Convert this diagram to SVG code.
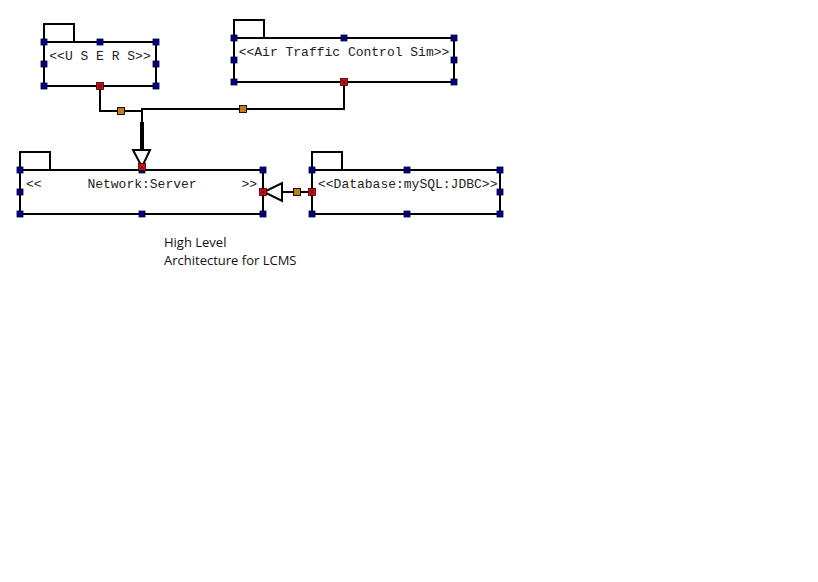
<svg xmlns="http://www.w3.org/2000/svg" width="818" height="582" viewBox="0 0 818 582">
<style>
.box{fill:#fff;stroke:#000;stroke-width:2}
.tab{fill:none;stroke:#000;stroke-width:2}
.ln{fill:none;stroke:#000;stroke-width:2}
.h{fill:#000080;stroke:#000033;stroke-width:0.8}
.r{fill:#d01010;stroke:#300;stroke-width:0.8}
.rx{stroke:#500;stroke-width:0.8}
.o{fill:#c87a1a;stroke:#000;stroke-width:0.9}
.mono{font-family:"Liberation Mono","Courier New",monospace;font-size:13px;fill:#222}
.lbl{font-family:"Open Sans","Noto Sans",sans-serif;font-size:13px;fill:#111}
</style>
<defs>
<g id="hd"><rect class="h" x="-3" y="-3" width="6" height="6"/></g>
<g id="rd"><rect class="r" x="-3.5" y="-3.5" width="7" height="7"/><path class="rx" d="M-2,-2L2,2M2,-2L-2,2"/></g>
<g id="od"><rect class="o" x="-3.5" y="-3.5" width="7" height="7"/></g>
</defs>
<rect width="818" height="582" fill="#fff"/>

<g id="connectors">
<path class="ln" d="M100,86V111H142"/>
<path class="ln" d="M344,82V109H142V150"/>
<path class="ln" d="M142,122V150" style="stroke-width:4"/>
<polygon points="133,150 150,150 142,167" fill="#fff" stroke="#000" stroke-width="2"/>
<path class="ln" d="M282,192H312"/>
<polygon points="264,192 282,183 282,201" fill="#fff" stroke="#000" stroke-width="2"/>
<use href="#od" x="121" y="111"/>
<use href="#od" x="243" y="109"/>
<use href="#od" x="297" y="192"/>
</g>

<g id="users">
<path class="tab" d="M44,42V24H74V42"/>
<rect class="box" x="44" y="42" width="112" height="44"/>
<text class="mono" x="100" y="60" text-anchor="middle">&lt;&lt;U S E R S&gt;&gt;</text>
<use href="#hd" x="44" y="42"/><use href="#hd" x="100" y="42"/><use href="#hd" x="156" y="42"/>
<use href="#hd" x="44" y="64"/><use href="#hd" x="156" y="64"/>
<use href="#hd" x="44" y="86"/><use href="#rd" x="100" y="86"/><use href="#hd" x="156" y="86"/>
</g>

<g id="atc">
<path class="tab" d="M234,38V20H264V38"/>
<rect class="box" x="234" y="38" width="220" height="44"/>
<text class="mono" x="344" y="56" text-anchor="middle">&lt;&lt;Air Traffic Control Sim&gt;&gt;</text>
<use href="#hd" x="234" y="38"/><use href="#hd" x="344" y="38"/><use href="#hd" x="454" y="38"/>
<use href="#hd" x="234" y="60"/><use href="#hd" x="454" y="60"/>
<use href="#hd" x="234" y="82"/><use href="#rd" x="344" y="82"/><use href="#hd" x="454" y="82"/>
</g>

<g id="server">
<path class="tab" d="M20,170V152H50V170"/>
<rect class="box" x="20" y="170" width="243" height="44"/>
<text class="mono" x="26" y="188">&lt;&lt;</text>
<text class="mono" x="142" y="188" text-anchor="middle">Network:Server</text>
<text class="mono" x="257" y="188" text-anchor="end">&gt;&gt;</text>
<use href="#hd" x="20" y="170"/><use href="#hd" x="142" y="170"/><use href="#hd" x="263" y="170"/>
<use href="#rd" x="142" y="167"/>
<use href="#hd" x="20" y="192"/><use href="#rd" x="263" y="192"/>
<use href="#hd" x="20" y="214"/><use href="#hd" x="142" y="214"/><use href="#hd" x="263" y="214"/>
</g>

<g id="database">
<path class="tab" d="M312,170V152H342V170"/>
<rect class="box" x="312" y="170" width="188" height="44"/>
<text class="mono" x="318" y="188">&lt;&lt;Database:mySQL:JDBC&gt;&gt;</text>
<use href="#hd" x="312" y="170"/><use href="#hd" x="407" y="170"/><use href="#hd" x="500" y="170"/>
<use href="#rd" x="312" y="192"/><use href="#hd" x="500" y="192"/>
<use href="#hd" x="312" y="214"/><use href="#hd" x="407" y="214"/><use href="#hd" x="500" y="214"/>
</g>

<g id="caption">
<text class="lbl" x="164" y="247">High Level</text>
<text class="lbl" x="164" y="265">Architecture for LCMS</text>
</g>
</svg>
